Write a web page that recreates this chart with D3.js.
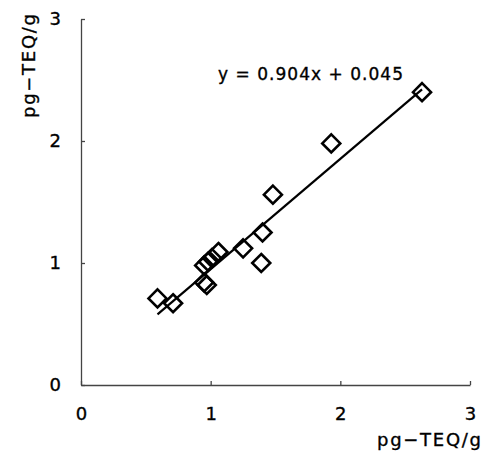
<!DOCTYPE html>
<html>
<head>
<meta charset="utf-8">
<script src="https://cdn.jsdelivr.net/npm/d3@7"></script>
<style>
  body { margin: 0; background: #fff; }
  text { font-family: "DejaVu Sans", "Liberation Sans", sans-serif; fill: #000; stroke: #000; stroke-width: 0.35px; }
</style>
</head>
<body>
<svg id="vis" width="484" height="454"></svg>
<script>
const xVals = [0.59, 0.71, 0.95, 0.97, 0.95, 0.98, 1.01, 1.06, 1.25, 1.40, 1.39, 1.48, 1.93, 2.63]
const yVals = [0.71, 0.67, 0.84, 0.82, 0.98, 1.01, 1.04, 1.09, 1.12, 1.25, 1.00, 1.56, 1.98, 2.40]
const xTicks = [0, 1, 2, 3]
const yTicks = [0, 1, 2, 3]
const slope = 0.904
const intercept = 0.045

const data = xVals.map((x, i) => ({ x: x, y: yVals[i] }))

const svg = d3.select("#vis")

const x = d3.scaleLinear().domain([0, 3]).range([81, 470])
const y = d3.scaleLinear().domain([0, 3]).range([385, 19])

// axes, ticks pointing inward
svg.append("g")
    .attr("transform", "translate(0,385)")
    .call(d3.axisBottom(x).tickValues(xTicks).tickFormat(d3.format("d"))
        .tickSizeInner(-4).tickSizeOuter(0).tickPadding(22))
    .call(g => g.selectAll("text").attr("font-size", 18))

svg.append("g")
    .attr("transform", "translate(81,0)")
    .call(d3.axisLeft(y).tickValues(yTicks).tickFormat(d3.format("d"))
        .tickSizeInner(-4).tickSizeOuter(0).tickPadding(20))
    .call(g => g.selectAll("text").attr("font-size", 18))

svg.selectAll(".domain, .tick line").attr("stroke", "#444").attr("stroke-width", 1.3)

// regression line over the data range
const xMin = d3.min(xVals), xMax = d3.max(xVals)
svg.append("line")
    .attr("x1", x(xMin)).attr("y1", y(slope * xMin + intercept))
    .attr("x2", x(xMax)).attr("y2", y(slope * xMax + intercept))
    .attr("stroke", "#000")
    .attr("stroke-width", 2.2)

// diamond markers
svg.selectAll("path.pt")
    .data(data)
    .join("path")
    .attr("class", "pt")
    .attr("d", "M0,-9L9,0L0,9L-9,0Z")
    .attr("transform", d => `translate(${x(d.x)},${y(d.y)})`)
    .attr("fill", "none")
    .attr("stroke", "#000")
    .attr("stroke-width", 2.6)

// equation label
svg.append("text")
    .attr("x", 218).attr("y", 80)
    .attr("font-size", 17)
    .attr("textLength", 185)
    .attr("lengthAdjust", "spacing")
    .text("y = 0.904x + 0.045")

// axis titles
svg.append("text")
    .attr("x", 377).attr("y", 446)
    .attr("font-size", 18)
    .attr("textLength", 104)
    .attr("lengthAdjust", "spacing")
    .text("pg\u2212TEQ/g")

svg.append("text")
    .attr("transform", "translate(35,118) rotate(-90)")
    .attr("font-size", 18)
    .attr("textLength", 104)
    .attr("lengthAdjust", "spacing")
    .text("pg\u2212TEQ/g")
</script>
</body>
</html>
